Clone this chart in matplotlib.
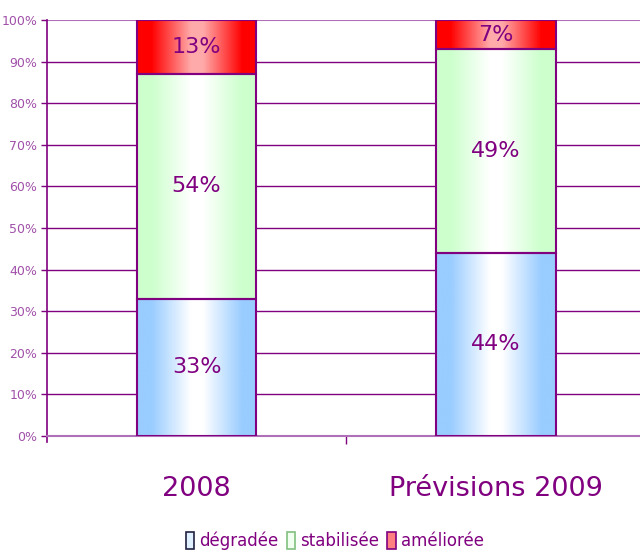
import numpy as np
import matplotlib.pyplot as plt
from matplotlib.colors import LinearSegmentedColormap
from matplotlib.patches import Patch

# data
categories = ['2008', 'Prévisions 2009']
series_names = ['dégradée', 'stabilisée', 'améliorée']
degradee = [33, 44]
stabilisee = [54, 49]
amelioree = [13, 7]
yticks = [0, 10, 20, 30, 40, 50, 60, 70, 80, 90, 100]

purple = '#800080'
light_purple = '#b070b8'
edge_colors = ['#99ccff', '#ccffcc', '#ff0000']
mid_colors = ['#ffffff', '#ffffff', '#ffaaaa']

plt.rcParams['font.family'] = ['DejaVu Sans']

fig = plt.figure(figsize=(6.4, 5.53), dpi=100)
ax = fig.add_axes([0.0734, 0.2116, 0.935, 0.7522])

x = np.arange(len(categories))
width = 0.4
bottom = np.zeros(len(categories))
grad = np.linspace(0, 1, 256).reshape(1, -1)

for i, vals in enumerate([degradee, stabilisee, amelioree]):
    vals = np.array(vals, dtype=float)
    bars = ax.bar(x, vals, width, bottom=bottom, facecolor='none',
                  edgecolor=purple, linewidth=1.5, zorder=4)
    cmap = LinearSegmentedColormap.from_list(
        'g%d' % i,
        [(0, edge_colors[i]), (0.12, edge_colors[i]), (0.45, mid_colors[i]),
         (0.55, mid_colors[i]), (0.88, edge_colors[i]), (1, edge_colors[i])])
    for b, v, bt in zip(bars, vals, bottom):
        im = ax.imshow(grad, cmap=cmap, aspect='auto', zorder=3,
                       extent=(b.get_x(), b.get_x() + b.get_width(), bt, bt + v))
        im.set_clip_path(b)
        ax.text(b.get_x() + b.get_width() / 2, bt + v / 2, '%d%%' % v,
                ha='center', va='center', fontsize=16, color=purple, zorder=5)
    bottom += vals

ax.set_xlim(-0.5, 1.5)
ax.set_ylim(0, 100)
ax.set_yticks(yticks)
ax.set_yticklabels(['%d%%' % t for t in yticks], fontsize=9, color='#a050a8')
ax.tick_params(axis='y', color=purple, length=4, width=1, pad=3)

for t in yticks[1:-1]:
    ax.axhline(t, color=purple, linewidth=1, zorder=1)
ax.axhline(100, color=light_purple, linewidth=1.5, zorder=1)

ax.set_xticks(x)
ax.set_xticklabels(categories, fontsize=19.5, color=purple)
ax.tick_params(axis='x', which='major', length=0, pad=29)
ax.set_xticks([0.5], minor=True)
ax.tick_params(axis='x', which='minor', length=6, color=purple, width=1)

for s in ['top', 'right']:
    ax.spines[s].set_visible(False)
ax.spines['left'].set_color(purple)
ax.spines['left'].set_linewidth(1.2)
ax.spines['left'].set_bounds(-1.5, 100)
ax.spines['bottom'].set_color(light_purple)
ax.spines['bottom'].set_linewidth(1.5)

handles = [Patch(facecolor=c, edgecolor=e, linewidth=1.2)
           for c, e in zip(['#e0f0ff', '#f0fff0', '#ff8080'], ['#202040', '#80c080', purple])]
fig.legend(handles, series_names, loc='center', bbox_to_anchor=(0.523, 0.022),
           ncol=3, frameon=False, fontsize=12, labelcolor=purple,
           handlelength=0.5, handleheight=1.15, handletextpad=0.3, columnspacing=0.5)

fig.savefig('out.png', dpi=100)
